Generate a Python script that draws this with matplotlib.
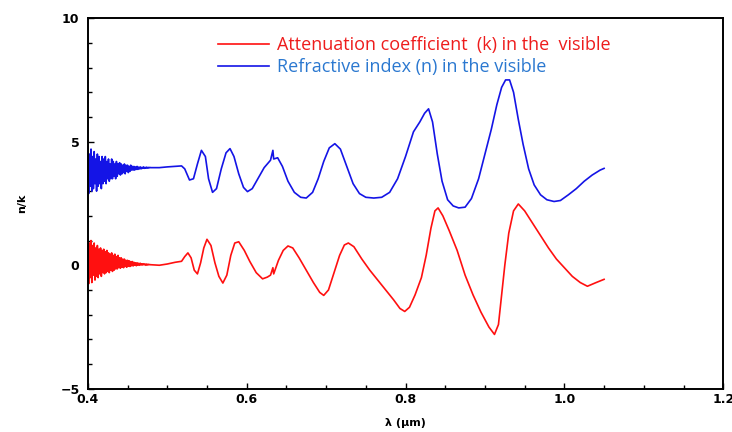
import matplotlib
matplotlib.use("Agg")
import matplotlib.pyplot as plt
import numpy as np
from matplotlib.ticker import MultipleLocator, FormatStrFormatter

# noisy start (0.400 - 0.479 um, one sample per nm)
noise_x = list(np.round(0.400 + 0.001 * np.arange(80), 3))
n_noise = [4.8, 2.9, 4.5, 3.2, 4.7, 3.0, 4.4, 3.1, 4.6, 3.3, 4.3, 3.0, 4.5, 3.2, 4.4, 3.3, 4.2, 3.1, 4.4, 3.3,
           4.3, 3.4, 4.4, 3.3, 4.2, 3.5, 4.3, 3.4, 4.1, 3.5, 4.3, 3.5, 4.2, 3.6, 4.1, 3.5, 4.2, 3.6, 4.1, 3.7,
           4.15, 3.65, 4.1, 3.7, 4.05, 3.75, 4.1, 3.7, 4.05, 3.8, 4.05, 3.75, 4.0, 3.8, 4.05, 3.85, 4.0, 3.85, 4.0, 3.85,
           3.98, 3.88, 4.0, 3.88, 3.97, 3.9, 3.98, 3.9, 3.96, 3.92, 3.98, 3.92, 3.96, 3.93, 3.97, 3.93, 3.96, 3.94, 3.96, 3.95]
k_noise = [1.15, -0.75, 0.9, -0.5, 1.0, -0.7, 0.8, -0.4, 0.9, -0.6, 0.7, -0.45, 0.8, -0.5, 0.65, -0.35, 0.7, -0.45, 0.6, -0.3,
           0.65, -0.35, 0.55, -0.3, 0.6, -0.25, 0.5, -0.3, 0.45, -0.2, 0.5, -0.25, 0.4, -0.2, 0.45, -0.15, 0.35, -0.15, 0.4, -0.1,
           0.3, -0.12, 0.3, -0.08, 0.25, -0.1, 0.25, -0.05, 0.2, -0.08, 0.2, -0.04, 0.18, -0.05, 0.15, -0.02, 0.15, -0.03, 0.12, 0.0,
           0.1, -0.02, 0.1, 0.0, 0.08, 0.0, 0.08, 0.01, 0.06, 0.01, 0.06, 0.02, 0.05, 0.0, 0.05, 0.01, 0.04, 0.02, 0.03, 0.02]

# refractive index n
n_x = [0.480, 0.490, 0.500, 0.510, 0.518, 0.522, 0.528, 0.533, 0.538, 0.543, 0.548,
       0.552, 0.557, 0.562, 0.568, 0.574, 0.579, 0.584, 0.590, 0.596, 0.601, 0.607,
       0.615, 0.622, 0.630, 0.633, 0.634, 0.639, 0.645, 0.652, 0.660, 0.668, 0.675,
       0.683, 0.690, 0.697, 0.704, 0.711, 0.718, 0.726, 0.734, 0.742, 0.750, 0.760,
       0.770, 0.780, 0.790, 0.800, 0.810, 0.818, 0.824, 0.829, 0.834, 0.840, 0.846,
       0.853, 0.860, 0.867, 0.875, 0.883, 0.892, 0.900, 0.908, 0.915, 0.921, 0.926,
       0.931, 0.936, 0.942, 0.948, 0.955, 0.962, 0.970, 0.978, 0.987, 0.995, 1.005,
       1.015, 1.025, 1.035, 1.045, 1.050]
n_y = [3.95, 3.95, 3.98, 4.00, 4.02, 3.90, 3.45, 3.50, 4.10, 4.65, 4.40,
       3.50, 2.95, 3.10, 3.90, 4.55, 4.72, 4.40, 3.70, 3.15, 2.98, 3.10,
       3.55, 3.95, 4.25, 4.65, 4.30, 4.35, 4.00, 3.40, 2.95, 2.75, 2.72,
       2.95, 3.50, 4.20, 4.75, 4.92, 4.70, 4.00, 3.30, 2.90, 2.75, 2.72,
       2.75, 2.95, 3.50, 4.40, 5.40, 5.80, 6.15, 6.33, 5.80, 4.50, 3.40,
       2.65, 2.40, 2.32, 2.35, 2.70, 3.50, 4.50, 5.50, 6.50, 7.20, 7.50,
       7.50, 7.00, 5.90, 4.90, 3.90, 3.25, 2.85, 2.65, 2.58, 2.62, 2.85,
       3.10, 3.40, 3.65, 3.85, 3.92]

# attenuation coefficient k
k_x = [0.480, 0.490, 0.500, 0.510, 0.518, 0.522, 0.526, 0.530, 0.534, 0.538, 0.542,
       0.546, 0.550, 0.555, 0.560, 0.565, 0.570, 0.575, 0.580, 0.585, 0.590, 0.597,
       0.604, 0.612, 0.620, 0.626, 0.630, 0.633, 0.634, 0.640, 0.646, 0.652, 0.658,
       0.666, 0.675, 0.684, 0.692, 0.697, 0.703, 0.710, 0.717, 0.723, 0.728, 0.735,
       0.745, 0.755, 0.765, 0.775, 0.785, 0.793, 0.799, 0.805, 0.812, 0.820, 0.826,
       0.832, 0.837, 0.841, 0.847, 0.855, 0.865, 0.875, 0.885, 0.895, 0.905, 0.912,
       0.917, 0.921, 0.925, 0.930, 0.936, 0.942, 0.950, 0.960, 0.970, 0.980, 0.990,
       1.000, 1.010, 1.020, 1.029, 1.040, 1.050]
k_y = [0.02, 0.00, 0.05, 0.12, 0.16, 0.35, 0.50, 0.30, -0.20, -0.35, 0.10,
       0.70, 1.05, 0.80, 0.10, -0.45, -0.72, -0.40, 0.40, 0.90, 0.95, 0.60,
       0.15, -0.30, -0.55, -0.48, -0.40, -0.10, -0.35, 0.20, 0.60, 0.78, 0.70,
       0.30, -0.20, -0.70, -1.10, -1.22, -1.00, -0.30, 0.40, 0.82, 0.90, 0.75,
       0.25, -0.20, -0.60, -1.00, -1.40, -1.75, -1.87, -1.70, -1.20, -0.50, 0.40,
       1.50, 2.20, 2.32, 2.00, 1.40, 0.60, -0.40, -1.20, -1.90, -2.50, -2.80,
       -2.40, -1.20, 0.00, 1.30, 2.20, 2.48, 2.20, 1.70, 1.20, 0.70, 0.25,
       -0.10, -0.45, -0.70, -0.85, -0.70, -0.57]

k_label = "Attenuation coefficient  (k) in the  visible"
n_label = "Refractive index (n) in the visible"

red = "#ff1010"
blue = "#1414e6"

fig = plt.figure(figsize=(7.32, 4.32), dpi=100)
ax = fig.add_axes([0.120, 0.100, 0.868, 0.858])

lk, = ax.plot(noise_x + k_x, k_noise + k_y, color=red, lw=1.2)
ln, = ax.plot(noise_x + n_x, n_noise + n_y, color=blue, lw=1.2)

ax.set_xlim(0.4, 1.2)
ax.set_ylim(-5, 10)
ax.xaxis.set_major_locator(MultipleLocator(0.2))
ax.xaxis.set_minor_locator(MultipleLocator(0.05))
ax.xaxis.set_major_formatter(FormatStrFormatter("%.1f"))
ax.yaxis.set_major_locator(MultipleLocator(5))
ax.yaxis.set_minor_locator(MultipleLocator(1))
ax.tick_params(which="both", direction="in", top=False, right=False,
               labelsize=9, width=1)
ax.tick_params(which="major", length=4)
ax.tick_params(which="minor", length=3)
ax.tick_params(axis="x", which="major", pad=3)
ax.tick_params(axis="y", which="major", pad=6)
for lab in ax.get_xticklabels() + ax.get_yticklabels():
    lab.set_fontweight("bold")
for s in ax.spines.values():
    s.set_linewidth(1.4)

ax.set_xlabel("λ (μm)", fontsize=8, fontweight="bold", labelpad=9)
ax.set_ylabel("n/k", fontsize=8, fontweight="bold", labelpad=24)

leg = ax.legend([lk, ln], [k_label, n_label], loc="upper left",
                bbox_to_anchor=(0.18, 0.995), frameon=False, handlelength=2.8,
                handletextpad=0.45, labelspacing=0.2,
                prop={"family": "Open Sans", "size": 13})
leg.get_texts()[0].set_color("#ee1c1c")
leg.get_texts()[1].set_color("#2b78d0")

fig.savefig("out.png", dpi=100)
